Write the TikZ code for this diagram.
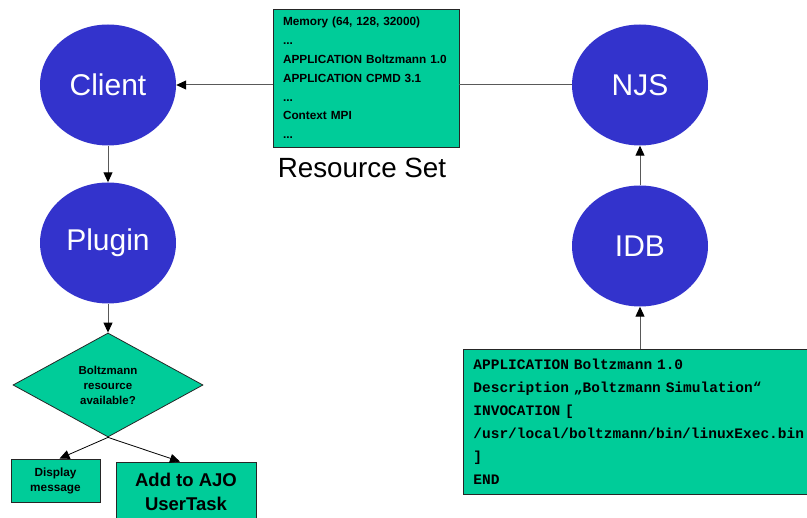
\documentclass[tikz,border=0pt]{standalone}
\usepackage{fontspec}
\setmainfont{Liberation Sans}
\newfontfamily\codefont{Liberation Mono}
\usetikzlibrary{arrows.meta,shapes.geometric}
\definecolor{nodeblue}{RGB}{51,51,204}
\definecolor{boxgreen}{RGB}{0,204,153}
\tikzset{
  blob/.style={ellipse, fill=nodeblue, inner sep=0pt, minimum width=136pt, minimum height=121pt,
    text=white, font=\fontsize{30}{32}\selectfont},
  gbox/.style={rectangle, fill=boxgreen, draw=black!85, line width=0.8pt},
  conn/.style={draw=black!65, line width=1pt},
  arr/.style={conn, -{Triangle[length=10pt,width=9pt,color=black]}},
}
\begin{document}
\begin{tikzpicture}[x=1pt,y=-1pt]
\useasboundingbox (0,0) rectangle (807,518);
\clip (0,0) rectangle (807,518);
\node[blob] (client) at (108,85) {Client};
\node[blob] (plugin) at (108,243) {Plugin};
\node[blob] (njs) at (640,85) {NJS};
\node[blob] (idb) at (640,246) {IDB};
\node[gbox, minimum width=186pt, minimum height=138pt, inner xsep=10pt, inner ysep=2pt,
  text width=166pt, align=left, font=\bfseries\fontsize{11.8}{18.8}\selectfont] (res) at (366,78)
  {Memory (64, 128, 32000)\\...\\APPLICATION Boltzmann 1.0\\APPLICATION CPMD 3.1\\...\\Context MPI\\...};
\node[font=\fontsize{27.8}{30}\selectfont] (reslabel) at (362,168) {Resource Set};
\node[gbox, diamond, minimum width=190pt, minimum height=104pt, inner sep=0pt, align=center,
  font=\bfseries\fontsize{11.5}{15}\selectfont] (dia) at (108,385) {Boltzmann\\resource\\available?};
\node[gbox, minimum width=89pt, minimum height=43pt, inner sep=0pt, align=center,
  font=\bfseries\fontsize{11.8}{15}\selectfont] (disp) at (55.5,480.5) {Display\\message};
\node[gbox, minimum width=140pt, minimum height=60pt, inner sep=0pt, align=center,
  font=\bfseries\fontsize{18.5}{24}\selectfont] (add) at (186,492) {Add to AJO\\UserTask};
\node[gbox, anchor=north west, minimum width=420pt, minimum height=145pt, inner xsep=9pt, inner ysep=2pt,
  text width=400pt, align=left, font=\codefont\bfseries\fontsize{14.5}{23}\selectfont] (code) at (463,349)
  {APPLICATION Boltzmann 1.0\\Description „Boltzmann Simulation“\\INVOCATION [\\/usr/local/boltzmann/bin/linuxExec.bin\\]\\END};
\draw[arr] (client.east -| res.west) -- (client.east);
\draw[conn] (njs.west) -- (njs.west -| res.east);
\draw[arr] (client.south) -- (plugin.north);
\draw[arr] (plugin.south) -- (dia.north);
\draw[arr, line width=0.8pt, draw=black] (dia.south) -- ([xshift=4pt]disp.north);
\draw[arr, line width=0.8pt, draw=black] (dia.south) -- ([xshift=-6pt]add.north);
\draw[arr] (idb.north) -- (njs.south);
\draw[arr] (idb.south |- code.north) -- (idb.south);
\end{tikzpicture}
\end{document}
